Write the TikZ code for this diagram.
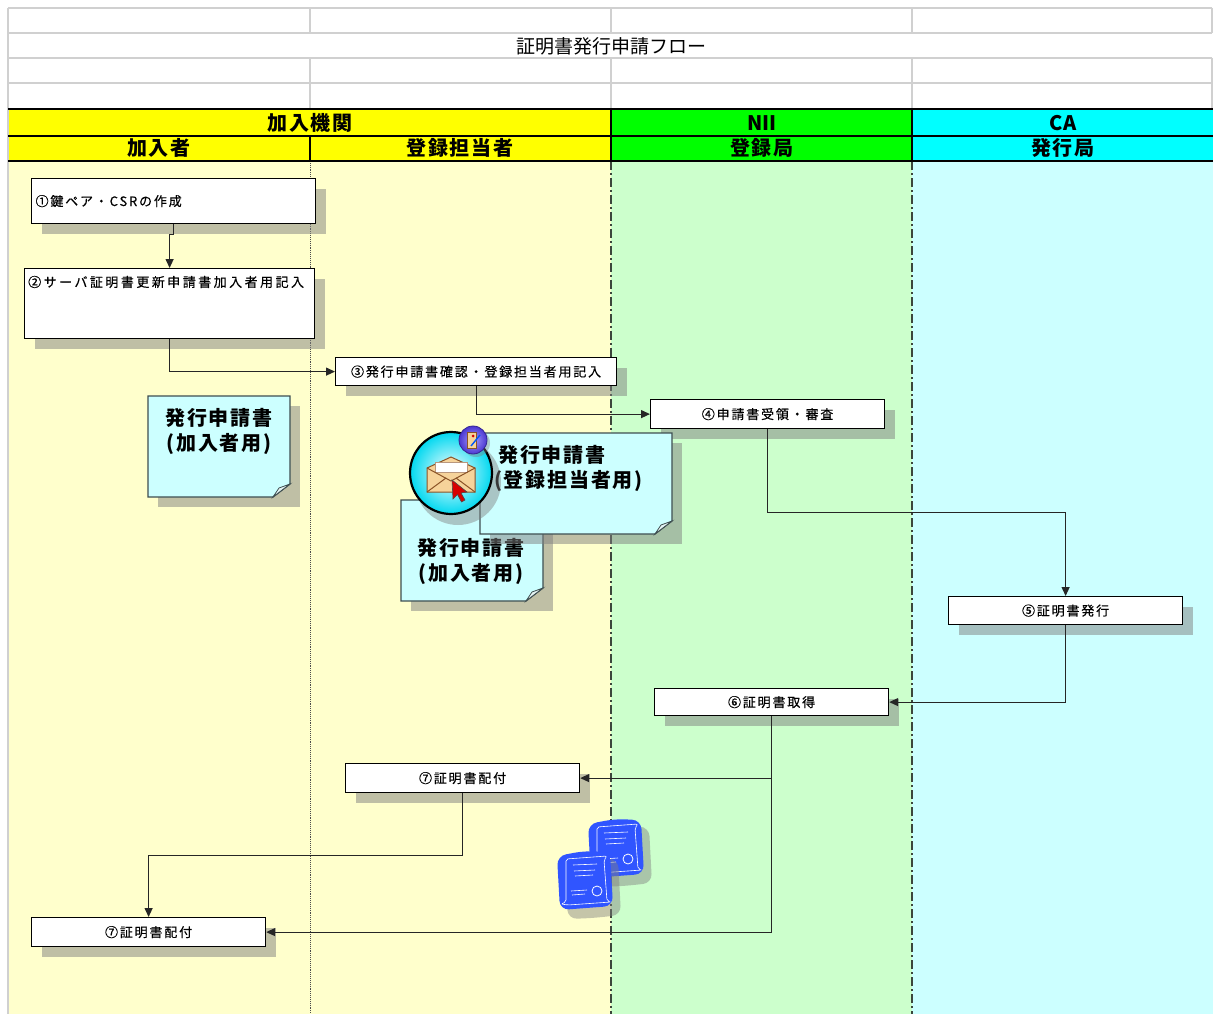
\documentclass[tikz,border=0pt]{standalone}
\usepackage{fontspec}
\setmainfont{Noto Sans CJK JP}
\newfontfamily\stepfont[LetterSpace=14, FakeBold=0.4]{Noto Sans CJK JP}
\newfontfamily\headfont[LetterSpace=9]{Noto Sans CJK JP}
\usetikzlibrary{arrows.meta, positioning, shadows, calc}
\definecolor{Flow_Yellow}{HTML}{FFFF00}
\definecolor{Flow_Green}{HTML}{00FF00}
\definecolor{Flow_Cyan}{HTML}{00FFFF}
\definecolor{Lane_Yellow}{HTML}{FFFFCC}
\definecolor{Lane_Green}{HTML}{CCFFCC}
\definecolor{Lane_Cyan}{HTML}{CCFFFF}
\definecolor{Grid_Gray}{HTML}{D0D0D0}
\definecolor{Flow_Shade}{HTML}{808080}
\definecolor{Lane_Rule}{HTML}{3C463C}
\definecolor{Slip_Cyan}{HTML}{CCFFFF}
\definecolor{Slip_Edge}{HTML}{3E4E50}
\definecolor{Slip_Fold}{HTML}{E4F4F4}
\definecolor{Icon_Cyan}{HTML}{00D8F0}
\definecolor{Env_Tan}{HTML}{F6D39A}
\definecolor{Env_Brown}{HTML}{8A5226}
\definecolor{Cursor_Red}{HTML}{D80000}
\definecolor{Badge_Light}{HTML}{A8A0FF}
\definecolor{Badge_Dark}{HTML}{4A36D0}
\definecolor{Cert_Blue}{HTML}{3055FF}

% application slip with curled corner: x1, y1, x2, y2
\newcommand{\slipsheet}[4]{%
  \fill[Flow_Shade, opacity=.5] (#1+10,#2+10) rectangle (#3+10,#4+10);
  \filldraw[fill=Slip_Cyan, draw=Slip_Edge, line width=1.3pt]
    (#1,#2) -- (#3,#2) -- (#3,#4-13) -- (#3-17,#4) -- (#1,#4) -- cycle;
  \filldraw[fill=Slip_Fold, draw=Slip_Edge, line width=.8pt]
    (#3,#4-13) -- (#3-11,#4-9) -- (#3-17,#4) -- cycle;
}

\tikzset{
  certsheet/.pic={
    \fill[Flow_Shade, opacity=.45, rounded corners=9pt] (7,11) -- (34,6) -- (61,7) -- (64,63) -- (36,66) -- (11,67) -- cycle;
    \fill[Cert_Blue, rounded corners=9pt] (0,4) -- (27,-1) -- (53,0) -- (56,54) -- (29,56) -- (3,58) -- cycle;
    \draw[white, line width=.6pt, rounded corners=2pt] (9,7) -- (50,4) -- (47,8) -- (50,49) -- (54,50) -- (11,53) -- (4,52) -- (9,50) -- cycle;
    \draw[white, line width=.6pt] (16,13) -- (40,12) (17,19) -- (38,18) (18,24) -- (36,23)
      (14,39) -- (30,38) (15,43) -- (28,42);
    \draw[white, line width=.8pt] (40,39) circle (5);
  }
}

\begin{document}
\begin{tikzpicture}[x=1pt, y=-1pt,
  stepbox/.style={draw=black, fill=white, line width=1.2pt, anchor=north west,
    inner xsep=4pt, inner ysep=0pt, font=\stepfont\fontsize{13}{15}\selectfont,
    drop shadow={shadow xshift=10pt, shadow yshift=-10pt, fill=Flow_Shade, opacity=.5}},
  steptext/.style={inner sep=0pt, font=\stepfont\fontsize{13}{15}\selectfont},
  headtext/.style={font=\headfont\bfseries\fontsize{20}{22}\selectfont, inner sep=0pt},
  sliptext/.style={font=\headfont\bfseries\fontsize{20}{25}\selectfont, inner sep=0pt},
  flow/.style={line width=1.2pt, draw=black!85, -{Triangle[length=9pt,width=8pt]}}]
\useasboundingbox (0,0) rectangle (1213,1014);
\fill[white] (0,0) rectangle (1213,1014);

% --- sheet grid and title ---
\foreach \y in {8,33,58,83} {
  \draw[Grid_Gray, line width=1.5pt] (8,\y) -- (1212,\y);
}
\foreach \x in {310,611,912,1212} {
  \draw[Grid_Gray, line width=1.5pt] (\x,8) -- (\x,33);
  \draw[Grid_Gray, line width=1.5pt] (\x,58) -- (\x,108);
}
\draw[Grid_Gray, line width=1.5pt] (8,8) -- (8,1014);
\node[font=\fontsize{19}{22}\selectfont, inner sep=0pt] (title) at (611,46) {証明書発行申請フロー};

% --- lanes ---
\fill[Lane_Yellow] (9,161) rectangle (611,1014);
\fill[Lane_Green] (611,161) rectangle (912,1014);
\fill[Lane_Cyan] (912,161) rectangle (1213,1014);
\draw[gray!60!black, densely dotted, line width=.9pt] (310,161) -- (310,1014);
\foreach \x in {611,912} {
  \draw[Lane_Rule, line width=1.6pt, dash pattern=on 9pt off 3pt on 2pt off 3pt] (\x,161) -- (\x,1014);
}

% --- header ---
\fill[Flow_Yellow] (9,109) rectangle (611,161);
\fill[Flow_Green] (611,109) rectangle (912,161);
\fill[Flow_Cyan] (912,109) rectangle (1213,161);
\draw[line width=2.5pt] (8,109) -- (1213,109);
\draw[line width=2pt] (8,136) -- (1213,136);
\draw[line width=2.5pt] (8,161) -- (1213,161);
\draw[line width=2pt] (611,109) -- (611,161) (912,109) -- (912,161) (310,136) -- (310,161);
\node[headtext] (member) at (310,123) {加入機関};
\node[headtext] (subscriber) at (159,148) {加入者};
\node[headtext] (officer) at (460,148) {登録担当者};
\node[headtext, font=\bfseries\fontsize{20}{22}\selectfont] (nii) at (762,123) {NII};
\node[headtext] (ra) at (762,148) {登録局};
\node[headtext, font=\bfseries\fontsize{20}{22}\selectfont] (ca) at (1063,123) {CA};
\node[headtext] (issuer) at (1063,148) {発行局};

% --- steps ---
\node[stepbox, minimum width=284pt, minimum height=45pt, text width=276pt, align=left] (keypair) at (31,178) {①鍵ペア・CSRの作成};
\node[stepbox, minimum width=290pt, minimum height=70pt] (renewform) at (24,268) {};
\node[steptext, anchor=west] (renewtext) at (28,282) {\addfontfeatures{LetterSpace=19}②サーバ証明書更新申請書加入者用記入};
\node[stepbox, minimum width=281pt, minimum height=28pt] (confirm) at (335,357) {③発行申請書確認・登録担当者用記入};
\node[stepbox, minimum width=234pt, minimum height=29pt] (review) at (650,399) {④申請書受領・審査};
\node[stepbox, minimum width=234pt, minimum height=28pt] (issue) at (948,596) {⑤証明書発行};
\node[stepbox, minimum width=234pt, minimum height=27pt] (obtain) at (654,688) {⑥証明書取得};
\node[stepbox, minimum width=234pt, minimum height=29pt] (deliverA) at (345,763) {⑦証明書配付};
\node[stepbox, minimum width=234pt, minimum height=29pt] (deliverB) at (31,917) {⑦証明書配付};

% --- flow ---
\draw[flow] (keypair.south) -- ++(0,10) -| (renewform.north);
\draw[flow] (renewform.south) |- (confirm.west);
\draw[flow] (confirm.south) |- (review.west);
\draw[flow] (review.south) -- ++(0,83) -| (issue.north);
\draw[flow] (issue.south) |- (obtain.east);
\draw[flow] (obtain.south) |- (deliverA.east);
\draw[flow] (obtain.south) |- (deliverB.east);
\draw[flow] (deliverA.south) -- ++(0,62) -| (deliverB.north);

% --- application slips ---
\slipsheet{148}{396}{290}{497}
\node[sliptext, align=center] (slipA) at (219,431) {発行申請書\\(加入者用)};
\slipsheet{401}{500}{543}{601}
\node[sliptext, align=center] (slipC) at (471,561) {発行申請書\\(加入者用)};
\slipsheet{480}{433}{672}{534}
\node[sliptext, align=left, anchor=west] (slipB) at (494,468) {\hspace{4pt}発行申請書\\(登録担当者用)};

% --- mail icon ---
\begin{scope}[shift={(451,473)}]
  \fill[Flow_Shade, opacity=.45] (7,9) circle (43);
  \shade[inner color=white, outer color=Icon_Cyan] (0,0) circle (41);
  \draw[line width=2.2pt] (0,0) circle (41);
  \filldraw[fill=Env_Tan, draw=Env_Brown, line width=1pt] (-24,-5) -- (0,-16) -- (24,-5) -- (24,19) -- (-24,19) -- cycle;
  \filldraw[fill=white, draw=Env_Brown!60, line width=.6pt] (-16,-11) rectangle (16,-1);
  \draw[Env_Brown, line width=1pt] (-24,-5) -- (0,8) -- (24,-5);
  \draw[Env_Brown, line width=1pt] (-24,19) -- (-5,5) (24,19) -- (5,5);
  \filldraw[fill=Cursor_Red, draw=black!70, line width=.6pt]
    (1,7) -- (2,26) -- (6.5,21.5) -- (10.5,29) -- (14,27) -- (10,20) -- (16,19) -- cycle;
  % badge
  \fill[Flow_Shade, opacity=.4] (25,-30) circle (14);
  \shade[inner color=Badge_Light, outer color=Badge_Dark] (22,-33) circle (14);
  \draw[Badge_Dark!70!black, line width=.8pt] (22,-33) circle (14);
  \filldraw[fill=Env_Tan, draw=Env_Brown, line width=.5pt] (16,-41) rectangle (25,-25);
  \fill[Cursor_Red] (22,-37) circle (1.5);
  \draw[line width=1.4pt, Icon_Cyan!40!blue] (20,-27) -- (29,-38);
\end{scope}

% --- certificates ---
\pic at (588,820) {certsheet};
\pic at (557,852) {certsheet};
\end{tikzpicture}
\end{document}
